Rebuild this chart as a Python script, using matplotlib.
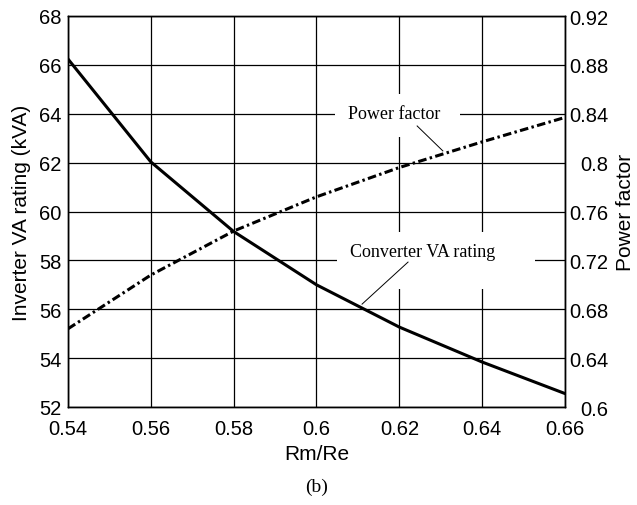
import matplotlib
matplotlib.use("Agg")
import matplotlib.pyplot as plt
from matplotlib.patches import Rectangle

# data
rm_re = [0.54, 0.56, 0.58, 0.60, 0.62, 0.64, 0.66]
inverter_kva = [66.24, 62.03, 59.18, 57.0, 55.27, 53.84, 52.55]
power_factor = [0.664, 0.708, 0.744, 0.772, 0.796, 0.817, 0.837]

x_ticks = [0.54, 0.56, 0.58, 0.6, 0.62, 0.64, 0.66]
x_labels = ["0.54", "0.56", "0.58", "0.6", "0.62", "0.64", "0.66"]
left_ticks = [52, 54, 56, 58, 60, 62, 64, 66, 68]
right_ticks = [0.6, 0.64, 0.68, 0.72, 0.76, 0.8, 0.84, 0.88, 0.92]
right_labels = ["0.6", "0.64", "0.68", "0.72", "0.76", "0.8", "0.84", "0.88", "0.92"]

plt.rcParams['font.family'] = ['Liberation Sans', 'DejaVu Sans']

fig = plt.figure(figsize=(6.37, 5.06), dpi=100)
ax = fig.add_axes([68/637, 1 - 408/506, (565-68)/637, (408-17)/506])
ax2 = ax.twinx()

ax.set_xlim(0.54, 0.66)
ax.set_ylim(52, 68)
ax2.set_ylim(0.6, 0.92)

ax.set_xticks(x_ticks)
ax.set_xticklabels(x_labels)
ax.set_yticks(left_ticks)
ax2.set_yticks(right_ticks)
ax2.set_yticklabels(right_labels)

ax.grid(True, color="black", linewidth=0.9)
ax.set_axisbelow(True)
ax.tick_params(axis="x", length=0, labelsize=14.5, pad=9)
ax.tick_params(axis="y", length=0, labelsize=14.5, pad=4.5)
ax2.tick_params(length=0, labelsize=14.5, pad=31)
for lab in ax2.get_yticklabels():
    lab.set_horizontalalignment("right")

for sp in list(ax.spines.values()) + list(ax2.spines.values()):
    sp.set_linewidth(1.0)
    sp.set_color("black")

ax.plot(rm_re, inverter_kva, color="black", linewidth=2.2, zorder=4)
ax2.plot(rm_re, power_factor, color="black", linewidth=2.2,
         linestyle=(0, (2.8, 1.1, 0.8, 1.1)), zorder=4)

ax.set_xlabel("Rm/Re", fontsize=15, labelpad=4)
ax.set_ylabel("Inverter VA rating (kVA)", fontsize=15, labelpad=6)
ax2.set_ylabel("Power factor", fontsize=15, labelpad=6)

# white boxes that cut the grid behind the curve labels
ax.add_patch(Rectangle((0.6045, 63.05), 0.0301, 1.76, facecolor="white",
                       edgecolor="none", zorder=2.5))
ax.add_patch(Rectangle((0.6050, 56.83), 0.0478, 2.33, facecolor="white",
                       edgecolor="none", zorder=2.5))

ax.text(0.6187, 64.0, "Power factor", fontsize=13, family="Liberation Serif",
        ha="center", va="center", zorder=3)
ax.text(0.6257, 58.35, "Converter VA rating", fontsize=13,
        family="Liberation Serif", ha="center", va="center", zorder=3)

# leader lines
ax.plot([0.6243, 0.6305], [63.50, 62.48], color="black", linewidth=0.7, zorder=3)
ax.plot([0.6221, 0.6110], [57.93, 56.21], color="black", linewidth=0.7, zorder=3)

fig.text(0.5 * (68 + 565) / 637, 1 - 487/506, "(b)", fontsize=14,
         family="Liberation Serif", ha="center", va="center")

fig.savefig("out.png", dpi=100)
